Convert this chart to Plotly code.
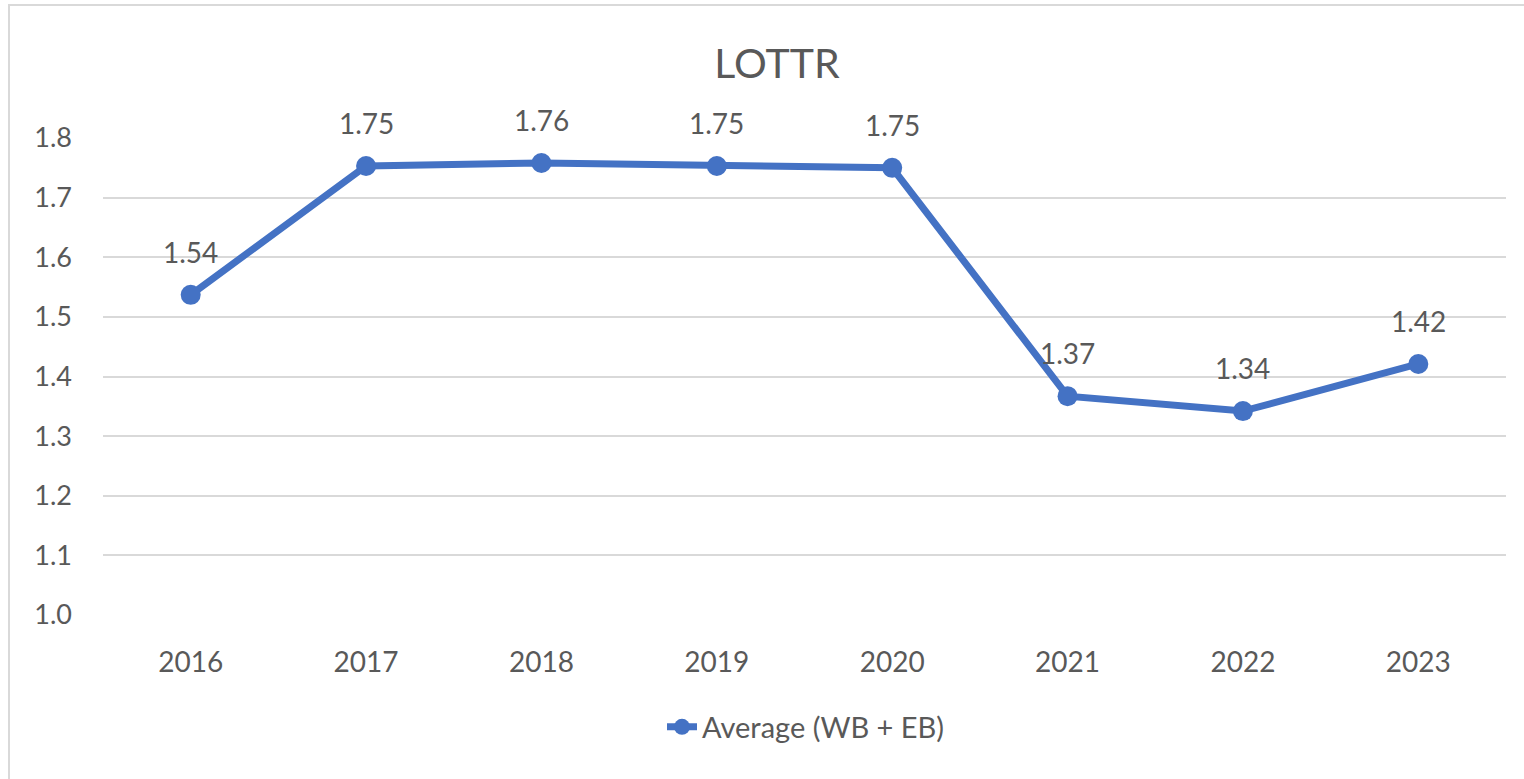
import plotly.graph_objects as go

years = ["2016", "2017", "2018", "2019", "2020", "2021", "2022", "2023"]
lottr = [1.537, 1.753, 1.758, 1.753, 1.750, 1.367, 1.342, 1.421]
y_ticks = [1.0, 1.1, 1.2, 1.3, 1.4, 1.5, 1.6, 1.7, 1.8]
series_name = "Average (WB + EB)"
title_text = "LOTTR"

W, H = 1524, 779
L, R, T, B = 103, 18, 138, 164
pw, ph = W - L - R, H - T - B

BLUE = "#4472C4"
GRAY_TXT = "#595959"
GRID = "#D9D9D9"
FONT = "Lato, Open Sans, sans-serif"

fig = go.Figure()
fig.add_trace(go.Scatter(
    x=years, y=lottr, mode="lines+markers", name=series_name,
    line=dict(color=BLUE, width=7),
    marker=dict(color=BLUE, size=20),
    cliponaxis=False,
))

for i, v in enumerate(lottr):
    fig.add_annotation(x=i, y=v, xref="x", yref="y", text=f"{v:.2f}", showarrow=False,
                       yshift=43, font=dict(size=28, color=GRAY_TXT, family=FONT))

# chart border (Excel chart area)
def px_x(p):
    return (p - L) / pw

def px_y(p):
    return (H - B - p) / ph

fig.add_shape(type="rect", xref="paper", yref="paper",
              x0=px_x(9), x1=px_x(1560), y0=px_y(5), y1=px_y(820),
              line=dict(color=GRID, width=2), fillcolor="rgba(0,0,0,0)", layer="below")

fig.update_layout(
    width=W, height=H,
    margin=dict(l=L, r=R, t=T, b=B),
    paper_bgcolor="white", plot_bgcolor="white",
    font=dict(family=FONT, color=GRAY_TXT, size=28),
    title=dict(text=title_text, x=777 / W, xanchor="center", y=1 - 64 / H, yanchor="middle",
               font=dict(size=41, color=GRAY_TXT, family=FONT)),
    showlegend=True,
    legend=dict(orientation="h", x=px_x(806), xanchor="center", y=px_y(727), yanchor="middle",
                font=dict(size=29, color=GRAY_TXT, family=FONT)),
    xaxis=dict(type="category", range=[-0.5, 7.5], showgrid=False, showline=False,
               ticks="", ticklabelstandoff=28, tickfont=dict(size=28, color=GRAY_TXT)),
    yaxis=dict(range=[1.0, 1.8], tickvals=y_ticks, ticktext=[f"{t:.1f}" for t in y_ticks],
               showgrid=True, gridcolor=GRID, gridwidth=2, zeroline=False, showline=False,
               ticks="", ticklabelstandoff=30, tickfont=dict(size=27, color=GRAY_TXT)),
)

fig.write_html("out.html", config={"displayModeBar": False},
               post_script="document.body.style.margin='0';")
